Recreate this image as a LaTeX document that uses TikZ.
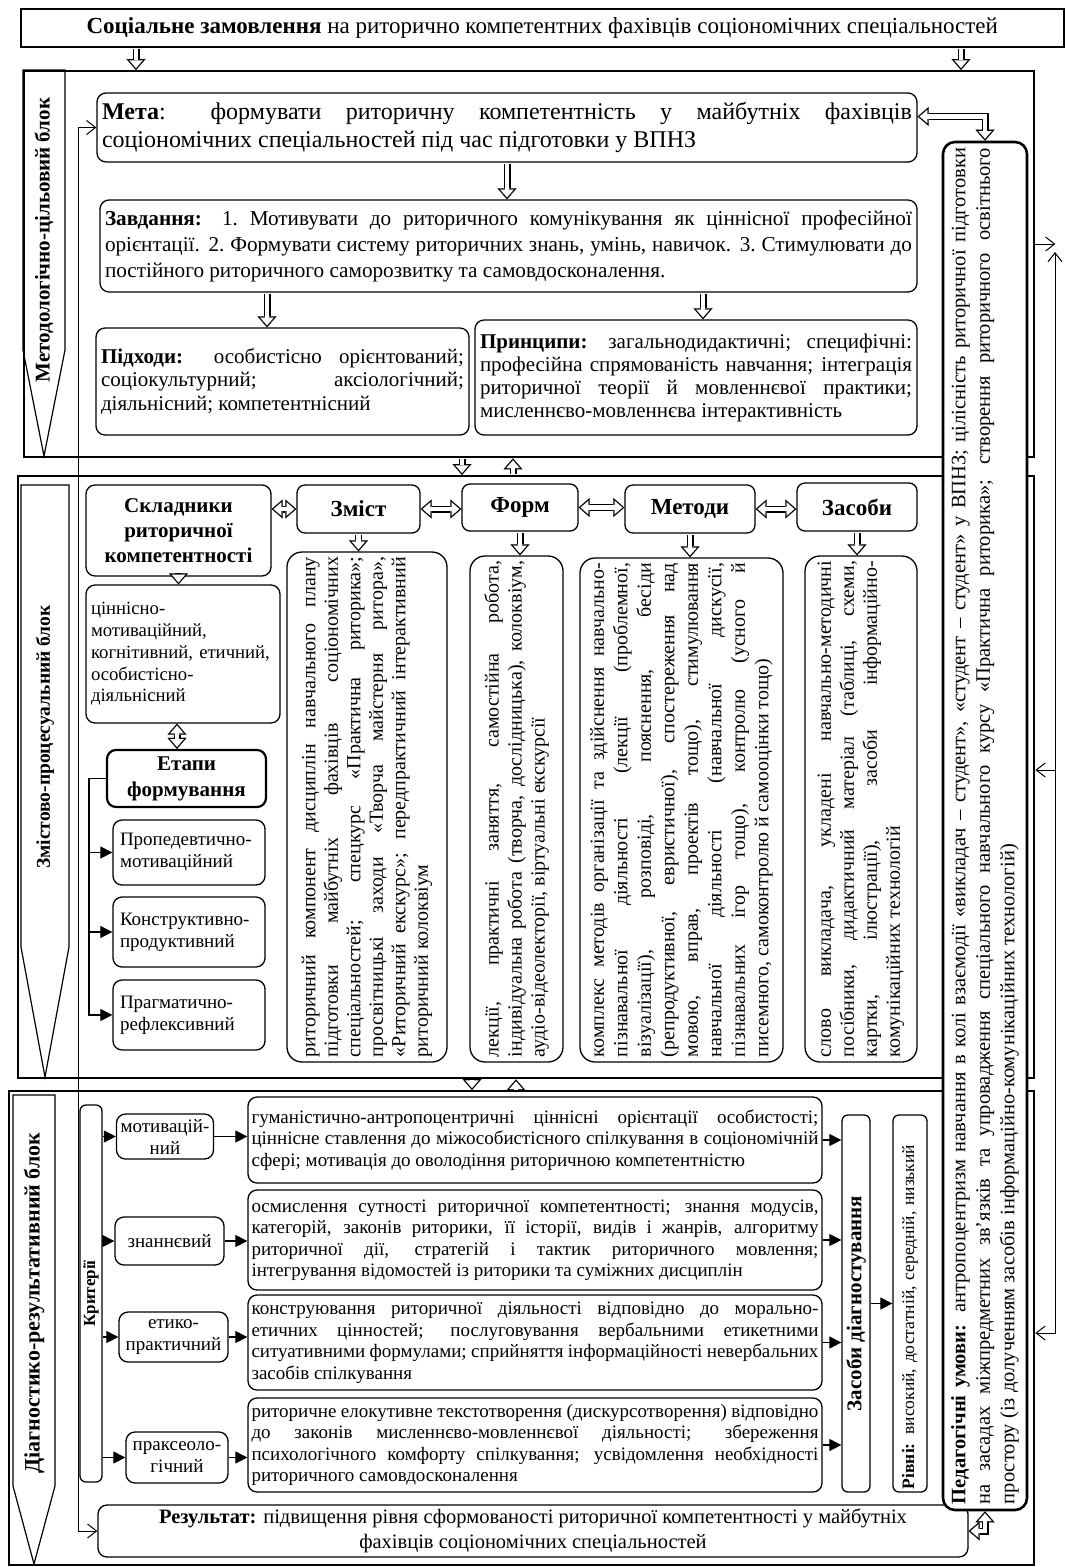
\documentclass[tikz,border=0pt]{standalone}
\usepackage{fontspec}
\setmainfont{Liberation Serif}
\usetikzlibrary{arrows.meta,positioning,calc}
\newcommand{\fsz}[2]{\fontsize{#1}{#2}\selectfont}
\tikzset{
  blockframe/.style={
    draw,
    line width=2.4pt,
    anchor=north west,
    inner sep=0pt
  },
  blocklabel/.style={
    draw,
    line width=1.2pt
  },
  labeltext/.style={
    rotate=90,
    font=\bfseries\fsz{21}{24}
  },
  roundbox/.style={
    draw,
    rounded corners=9pt,
    line width=1.3pt,
    inner sep=4pt,
    align=justify
  },
  contentbox/.style={
    roundbox,
    rotate=90,
    rounded corners=15pt,
    font=\fsz{20}{22.5}
  },
  headbox/.style={
    draw,
    rounded corners=8pt,
    line width=1.3pt,
    align=center,
    font=\bfseries\fsz{23}{26}
  },
  stagebox/.style={
    roundbox,
    align=left,
    minimum width=152pt,
    text width=138pt,
    font=\fsz{19}{22}
  },
  critbox/.style={
    roundbox,
    align=center,
    inner sep=2pt,
    font=\fsz{19}{22}
  },
  descbox/.style={
    roundbox,
    minimum width=574pt,
    text width=567pt,
    inner sep=3.5pt,
    font=\fsz{19}{21.5}
  },
  hollow/.style={
    line width=7pt,
    shorten <=1pt,
    -{Triangle[length=11pt,width=19pt,line width=0.01pt]},
    postaction={draw=white, line width=4.6pt, shorten <=1pt, shorten >=2pt,
      -{Triangle[length=7.7pt,width=13.3pt,line width=0.01pt]}}
  },
  hollowboth/.style={
    line width=7pt,
    {Triangle[length=11pt,width=19pt,line width=0.01pt]}-{Triangle[length=11pt,width=19pt,line width=0.01pt]},
    postaction={draw=white, line width=4.6pt, shorten <=2pt, shorten >=2pt,
      {Triangle[length=7.7pt,width=13.3pt,line width=0.01pt]}-{Triangle[length=7.7pt,width=13.3pt,line width=0.01pt]}}
  },
  pointer/.style={
    line width=1.2pt,
    -{Triangle[length=12pt,width=12pt]}
  },
  feed/.style={
    line width=1pt,
    -{Straight Barb[length=9pt,width=14pt]}
  },
  feedboth/.style={
    line width=1pt,
    {Straight Barb[length=9pt,width=14pt]}-{Straight Barb[length=9pt,width=14pt]}
  }
}

\begin{document}
\begin{tikzpicture}[x=1pt,y=-1pt]
\path[fill=white] (0,0) rectangle (1065,1567);
\useasboundingbox (0,0) rectangle (1065,1567);

\node[draw, line width=1.5pt, minimum width=1043pt, minimum height=38pt, anchor=north west, font=\fsz{23}{26}] (order) at (20,8) {\textbf{Соціальне замовлення} на риторично компетентних фахівців соціономічних спеціальностей};

\node[blockframe, minimum width=1010pt, minimum height=386pt] (mblock) at (23,70) {};
\node[blockframe, minimum width=1016pt, minimum height=602pt] (pblock) at (17,475) {};
\node[blockframe, minimum width=1025pt, minimum height=474pt] (dblock) at (8,1090) {};

\draw[blocklabel] (23,70) -- (65,70) -- (65,350) -- (44,456) -- (23,350) -- cycle;
\draw[blocklabel] (21,485) -- (69,485) -- (69,947) -- (45,1077) -- (21,947) -- cycle;
\draw[blocklabel] (13,1095) -- (55,1095) -- (55,1486) -- (34,1564) -- (13,1486) -- cycle;
\node[labeltext] (mlabel) at (44,240) {Методологічно-цільовий блок};
\node[labeltext, font=\bfseries\fsz{19.5}{22}] (plabel) at (45,737) {Змістово-процесуальний блок};
\node[labeltext, font=\bfseries\fsz{22}{24}] (dlabel) at (34,1303) {Діагностико-результативний блок};

\node[roundbox, minimum width=820pt, minimum height=69pt, text width=810pt, inner sep=5pt, font=\fsz{24}{28}] (meta) at (507,127.5) {\textbf{Мета}: формувати риторичну компетентність у майбутніх фахівців\linebreak соціономічних спеціальностей під час підготовки у ВПНЗ};
\node[roundbox, minimum width=817pt, minimum height=92pt, text width=807pt, inner sep=5pt, font=\fsz{21.2}{26}] (task) at (508.5,246) {\textbf{Завдання:} 1.~Мотивувати до риторичного комунікування як ціннісної професійної\linebreak орієнтації. 2.~Формувати систему риторичних знань, умінь, навичок. 3.~Стимулювати до\linebreak постійного риторичного саморозвитку та самовдосконалення.};
\node[roundbox, minimum width=373pt, minimum height=107pt, text width=363pt, inner sep=5pt, font=\fsz{21}{23.5}] (appr) at (282.5,381.5) {\textbf{Підходи:} особистісно орієнтований;\linebreak соціокультурний; аксіологічний;\linebreak діяльнісний; компетентнісний};
\node[roundbox, minimum width=442pt, minimum height=115pt, text width=432pt, inner sep=5pt, font=\fsz{21}{23}] (princ) at (696,377.5) {\textbf{Принципи:} загальнодидактичні; специфічні:\linebreak професійна спрямованість навчання; інтеграція\linebreak риторичної теорії й мовленнєвої практики;\linebreak мисленнєво-мовленнєва інтерактивність};

\node[roundbox, align=center, minimum width=185pt, minimum height=91pt, font=\bfseries\fsz{21}{25}] (skl) at (178.5,530.5) {Складники\\риторичної\\компетентності};
\node[roundbox, align=left, minimum width=194pt, minimum height=138pt, text width=184pt, inner sep=3pt, font=\fsz{18.7}{21.7}] (cinn) at (183,654) {ціннісно-\\мотиваційний,\\когнітивний, етичний,\\особистісно-\\діяльнісний};
\node[roundbox, align=center, line width=2.2pt, minimum width=159pt, minimum height=57pt, font=\bfseries\fsz{21}{26}] (etapy) at (186.5,778.5) {Етапи\\формування};
\node[stagebox, minimum height=65pt] (st1) at (189,852.5) {Пропедевтично-\\мотиваційний};
\node[stagebox, minimum height=70pt] (st2) at (189,932) {Конструктивно-\\продуктивний};
\node[stagebox, minimum height=70pt] (st3) at (189,1015) {Прагматично-\\рефлексивний};

\node[headbox, minimum width=123pt, minimum height=48pt] (zmist) at (358.5,509) {Зміст};
\node[headbox, minimum width=116pt, minimum height=47pt] (form) at (520,507.5) {Форм};
\node[headbox, minimum width=130pt, minimum height=48pt] (metody) at (690,509) {Методи};
\node[headbox, minimum width=120pt, minimum height=48pt] (zasoby) at (857,507) {Засоби};

\node[contentbox, minimum width=510pt, minimum height=160pt, text width=500pt] (zmistc) at (367,807) {риторичний компонент дисциплін навчального плану\linebreak підготовки майбутніх фахівців соціономічних\linebreak спеціальностей; спецкурс «Практична риторика»;\linebreak просвітницькі заходи «Творча майстерня ритора»,\linebreak «Риторичний екскурс»; передпрактичний інтерактивний\linebreak риторичний колоквіум};
\node[contentbox, minimum width=506pt, minimum height=93pt, text width=496pt, font=\fsz{20}{23}] (formc) at (516.5,809) {лекції, практичні заняття, самостійна робота,\linebreak індивідуальна робота (творча, дослідницька), колоквіум,\linebreak аудіо-відеолекторії, віртуальні екскурсії};
\node[contentbox, minimum width=504pt, minimum height=203pt, text width=494pt, font=\fsz{20}{23.5}] (metodyc) at (681.5,810) {комплекс методів організації та здійснення навчально-\linebreak пізнавальної діяльності (лекції (проблемної,\linebreak візуалізації), розповіді, пояснення, бесіди\linebreak (репродуктивної, евристичної), спостереження над\linebreak мовою, вправ, проектів тощо), стимулювання\linebreak навчальної діяльності (навчальної дискусії,\linebreak пізнавальних ігор тощо), контролю (усного й\linebreak писемного, самоконтролю й самооцінки тощо)};
\node[contentbox, minimum width=506pt, minimum height=112pt, text width=496pt, font=\fsz{20}{23}] (zasobyc) at (861,809) {слово викладача, укладені навчально-методичні\linebreak посібники, дидактичний матеріал (таблиці, схеми,\linebreak картки, ілюстрації), засоби інформаційно-\linebreak комунікаційних технологій};

\node[roundbox, rotate=90, rounded corners=6pt, align=center, inner sep=1pt, minimum width=377pt, minimum height=22pt, font=\bfseries\fsz{17}{19}] (krit) at (91,1293.5) {Критерії};
\node[critbox, minimum width=97pt, minimum height=45pt] (crit1) at (165,1136.5) {мотивацій-\\ний};
\node[critbox, minimum width=109pt, minimum height=48pt] (crit2) at (169.5,1241) {знаннєвий};
\node[critbox, minimum width=109pt, minimum height=50pt] (crit3) at (173.5,1337) {етико-\\практичний};
\node[critbox, minimum width=102pt, minimum height=51pt] (crit4) at (177,1457.5) {праксеоло-\\гічний};

\node[descbox, minimum height=86pt] (desc1) at (535,1140) {гуманістично-антропоцентричні ціннісні орієнтації особистості;\linebreak ціннісне ставлення до міжособистісного спілкування в соціономічній\linebreak сфері; мотивація до оволодіння риторичною компетентністю};
\node[descbox, minimum height=100pt] (desc2) at (535,1240) {осмислення сутності риторичної компетентності; знання модусів,\linebreak категорій, законів риторики, її історії, видів і жанрів, алгоритму\linebreak риторичної дії, стратегій і тактик риторичного мовлення;\linebreak інтегрування відомостей із риторики та суміжних дисциплін};
\node[descbox, minimum height=95pt] (desc3) at (535,1342.5) {конструювання риторичної діяльності відповідно до морально-\linebreak етичних цінностей; послуговування вербальними етикетними\linebreak ситуативними формулами; сприйняття інформаційності невербальних\linebreak засобів спілкування};
\node[descbox, minimum height=94pt] (desc4) at (535,1445) {риторичне елокутивне текстотворення (дискурсотворення) відповідно\linebreak до законів мисленнєво-мовленнєвої діяльності; збереження\linebreak психологічного комфорту спілкування; усвідомлення необхідності\linebreak риторичного самовдосконалення};

\node[roundbox, rotate=90, rounded corners=6pt, align=center, inner sep=1pt, minimum width=377pt, minimum height=28pt, font=\bfseries\fsz{21}{23}] (zdiag) at (856,1303.5) {Засоби діагностування};
\node[roundbox, rotate=90, rounded corners=6pt, align=left, inner sep=3pt, minimum width=377pt, minimum height=34pt, text width=371pt, font=\fsz{17.5}{20}] (rivni) at (910,1303.5) {\textbf{Рівні:} високий, достатній, середній, низький};

\node[roundbox, align=center, inner sep=2pt, minimum width=870pt, minimum height=52pt, font=\fsz{20.5}{25}] (result) at (533,1531) {\textbf{Результат:} підвищення рівня сформованості риторичної компетентності у майбутніх\\фахівців соціономічних спеціальностей};

\node[roundbox, rotate=90, fill=white, line width=2.6pt, rounded corners=12pt, minimum width=1368pt, minimum height=84pt, text width=1356pt, inner sep=4pt, font=\fsz{20.5}{24.5}] (ped) at (985,826) {\textbf{Педагогічні умови:} антропоцентризм навчання в колі взаємодії «викладач – студент», «студент – студент» у ВПНЗ; цілісність риторичної підготовки\linebreak на засадах міжпредметних зв’язків та упровадження спеціального навчального курсу «Практична риторика»; створення риторичного освітнього\linebreak простору (із долученням засобів інформаційно-комунікаційних технологій)};

\draw[hollow] (136,0 |- order.south) -- (136,0 |- mblock.north);
\draw[hollow] (961,0 |- order.south) -- (961,0 |- mblock.north);
\draw[hollow] (meta.south) -- (meta.south |- task.north);
\draw[hollow] (267,0 |- task.south) -- (267,0 |- appr.north);
\draw[hollow] (703,0 |- task.south) -- (703,0 |- princ.north);
\draw[hollowboth] ([yshift=11pt]meta.east) -| (ped.east);
\draw[hollow] (462,0 |- mblock.south) -- (462,0 |- pblock.north);
\draw[hollow] (513,0 |- pblock.north) -- (513,0 |- mblock.south);

\draw[hollowboth] (skl.east |- zmist.west) -- (zmist.west);
\draw[hollowboth] (zmist.east) -- (zmist.east -| form.west);
\draw[hollowboth] (form.east) -- (form.east -| metody.west);
\draw[hollowboth] (metody.east) -- (metody.east -| zasoby.west);
\draw[hollow] (zmist.south) -- (zmist.south |- zmistc.east);
\draw[hollow] (form.south) -- (form.south |- formc.east);
\draw[hollow] (metody.south) -- (metody.south |- metodyc.east);
\draw[hollow] (zasoby.south) -- (zasoby.south |- zasobyc.east);
\draw[hollow] (skl.south) -- (skl.south |- cinn.north);
\draw[hollowboth] (177,0 |- cinn.south) -- (177,0 |- etapy.north);
\draw[pointer] (etapy.west) -- ++(-17,0) |- (st1.west);
\draw[pointer] (etapy.west) -- ++(-17,0) |- (st2.west);
\draw[pointer] (etapy.west) -- ++(-17,0) |- (st3.west);
\draw[hollow] (472,0 |- pblock.south) -- (472,0 |- dblock.north);
\draw[hollow] (516,0 |- dblock.north) -- (516,0 |- pblock.south);

\draw[pointer] (crit1.west -| krit.south) -- (crit1.west);
\draw[pointer] (crit2.west -| krit.south) -- (crit2.west);
\draw[pointer] (crit3.west -| krit.south) -- (crit3.west);
\draw[pointer] (crit4.west -| krit.south) -- (crit4.west);
\draw[pointer] (crit1.east) -- (crit1.east -| desc1.west);
\draw[pointer] (crit2.east) -- (crit2.east -| desc2.west);
\draw[pointer] (crit3.east) -- (crit3.east -| desc3.west);
\draw[pointer] (crit4.east) -- (crit4.east -| desc4.west);
\draw[pointer] (desc1.east) -- (desc1.east -| zdiag.north);
\draw[pointer] (desc2.east) -- (desc2.east -| zdiag.north);
\draw[pointer] (desc3.east) -- (desc3.east -| zdiag.north);
\draw[pointer] (desc4.east) -- (desc4.east -| zdiag.north);
\draw[pointer] (zdiag.south) -- (zdiag.south -| rivni.north);
\draw[hollowboth] (result.east) -| (ped.west);

\draw[feedboth] (meta.west) -- ++(-18,0) |- (result.west);
\coordinate (fbtop) at (1055,252);
\coordinate (fbbot) at (1055,1333);
\draw[feed] (mblock.east |- 0,244) -- ++(20,0);
\draw[feedboth] (fbtop) -- (fbbot) -- (fbbot -| dblock.east);
\draw[feed] (fbbot |- 0,770) -- (pblock.east |- 0,770);
\end{tikzpicture}
\end{document}
